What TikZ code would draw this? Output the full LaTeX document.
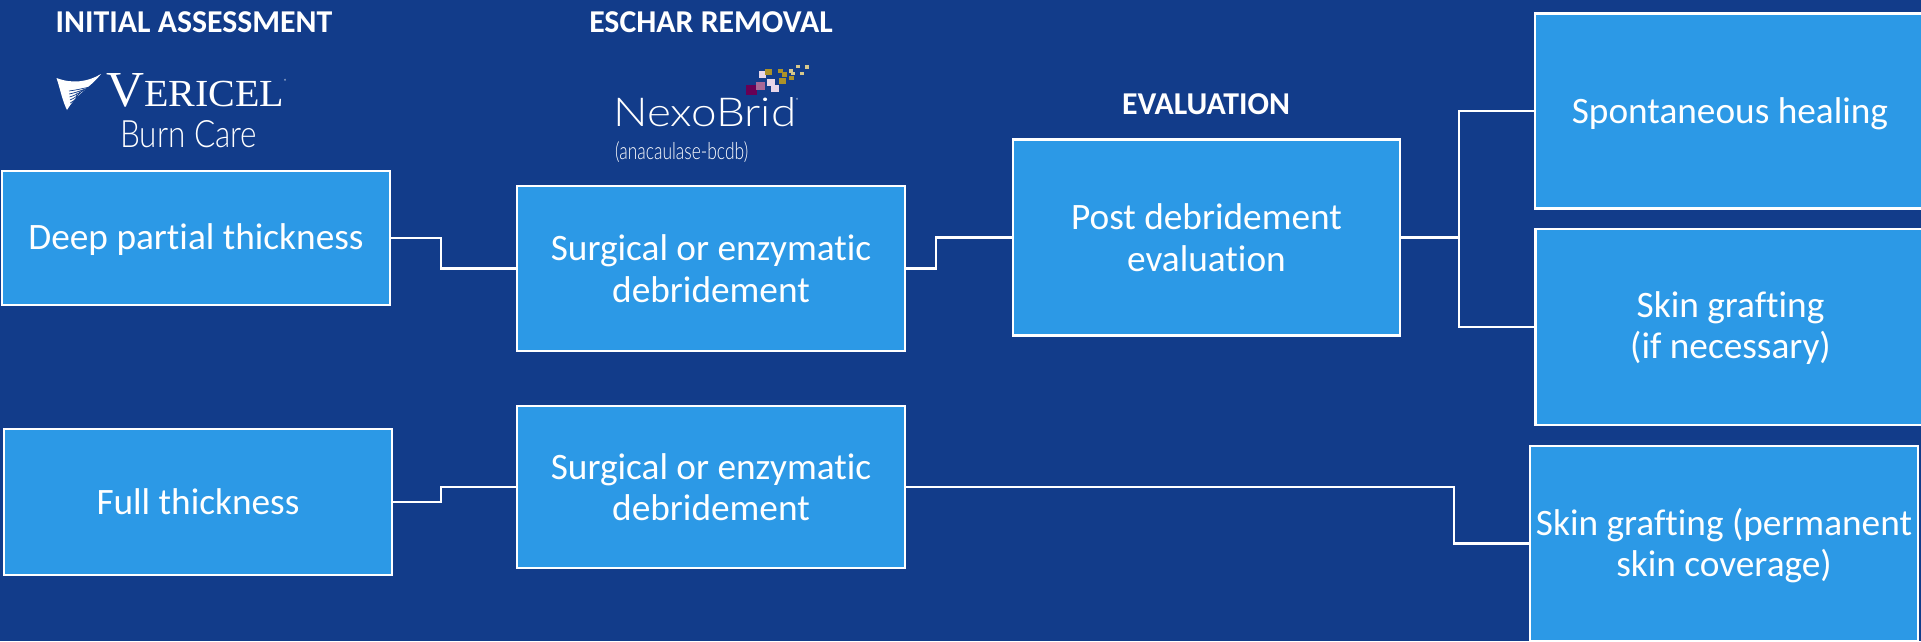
\documentclass[tikz,border=0pt]{standalone}
\usepackage{fontspec}
\setmainfont[Ligatures=NoCommon]{Carlito}
\newfontfamily\serifface{Liberation Serif}
\newfontfamily\lightface[UprightFont=* Light]{Lato}
\definecolor{bgblue}{RGB}{18,60,138}
\definecolor{boxblue}{RGB}{44,153,230}
\definecolor{plum}{RGB}{104,0,84}
\definecolor{mauve}{RGB}{168,104,150}
\definecolor{pale}{RGB}{232,214,232}
\definecolor{gold}{RGB}{172,146,40}
\definecolor{sand}{RGB}{214,200,140}
\tikzset{
  x=1pt,y=-1pt,
  flowbox/.style={draw=white,line width=2.8pt,fill=boxblue,text=white,align=center,inner sep=0pt,
    font=\fontsize{37.3}{41.5}\selectfont},
  heading/.style={text=white,inner sep=0pt,font=\fontsize{31.8}{36}\selectfont\bfseries},
  wire/.style={draw=white,line width=2.8pt,line join=miter},
  logotext/.style={text=white,inner sep=0pt,anchor=west}
}
\newcommand{\pixel}[5]{\fill[#1] ({580+#2/3},{#3/3}) rectangle ({580+#4/3},{#5/3});}
\newcommand{\lowered}[1]{\rule{0pt}{#1pt}}
\begin{document}
\begin{tikzpicture}
\useasboundingbox (0,0) rectangle (1921,641);
\clip (0,0) rectangle (1921,641);
\fill[bgblue] (0,0) rectangle (1921,641);

% boxes
\node[flowbox,minimum width=388pt,minimum height=134pt] (deep) at (196,238) {\lowered{29}Deep partial thickness};
\node[flowbox,minimum width=388pt,minimum height=146pt] (full) at (198,502) {Full thickness};
\node[flowbox,minimum width=388pt,minimum height=165pt] (surgA) at (711,268.5) {Surgical or enzymatic\\debridement};
\node[flowbox,minimum width=388pt,minimum height=162pt] (surgB) at (711,487) {Surgical or enzymatic\\debridement};
\node[flowbox,minimum width=387pt,minimum height=196pt] (post) at (1206.5,237.5) {Post debridement\\evaluation};
\node[flowbox,minimum width=390pt,minimum height=195.5pt] (heal) at (1730,111) {\lowered{31}Spontaneous healing};
\node[flowbox,minimum width=390pt,minimum height=196pt] (graftA) at (1730.5,327) {\lowered{28}Skin grafting\\(if necessary)};
\node[flowbox,minimum width=388pt,minimum height=195pt] (graftB) at (1724,543.5) {\lowered{31}Skin grafting (permanent\\skin coverage)};

% connectors
\coordinate (m1) at (441,0);
\coordinate (m2) at (936,0);
\coordinate (m3) at (1459,0);
\coordinate (m4) at (1454,0);
\draw[wire] (deep.east) -- (m1 |- deep.east) -- (m1 |- surgA.west) -- (surgA.west);
\draw[wire] (full.east) -- (m1 |- full.east) -- (m1 |- surgB.west) -- (surgB.west);
\draw[wire] (surgA.east) -- (m2 |- surgA.east) -- (m2 |- post.west) -- (post.west);
\draw[wire] (post.east) -- (m3 |- post.east);
\draw[wire] (heal.west) -- (m3 |- heal.west) -- (m3 |- graftA.west) -- (graftA.west);
\draw[wire] (surgB.east) -- (m4 |- surgB.east) -- (m4 |- graftB.west) -- (graftB.west);

% headings
\node[heading] (h1) at (194,22) {INITIAL ASSESSMENT};
\node[heading] (h2) at (711,22) {ESCHAR REMOVAL};
\node[heading] (h3) at (1206,104) {EVALUATION};

% Vericel logo
\fill[white] (56.5,78) .. controls (72,84) and (88,82) .. (101,74) .. controls (90,88) and (78,92) .. (67,110) .. controls (62,100) and (60,88) .. (56.5,78) -- cycle;
\foreach \k in {0,...,5}{
  \draw[bgblue,line width=0.7pt] ({69+\k*0.3},{91+\k*3}) .. controls ({76},{90+\k*2.4}) .. ({92-\k*3},{86.5+\k*1.2});
}
\node[logotext] (vericel) at (106,90.5) {\resizebox{178pt}{33pt}{\serifface\fontsize{50}{50}\selectfont V\fontsize{38}{38}\selectfont ERICEL}};
\node[logotext] (vericelr) at (284,81) {\fontsize{6}{6}\selectfont ®};
\node[logotext] (burn) at (120,134.5) {\resizebox{137pt}{27pt}{\lightface\fontsize{34}{34}\selectfont Burn Care}};

% NexoBrid logo
\pixel{plum}{498}{255}{531}{284}
\pixel{mauve}{527}{246}{555}{270}
\pixel{pale}{536}{213}{558}{234}
\pixel{gold}{555}{207}{575}{224}
\pixel{pale}{562}{238}{586}{258}
\pixel{pale}{574}{254}{598}{276}
\pixel{gold}{594}{208}{610}{220}
\pixel{gold}{605}{217}{622}{231}
\pixel{gold}{597}{235}{617}{252}
\pixel{sand}{628}{208}{640}{218}
\pixel{sand}{633}{216}{645}{224}
\pixel{gold}{626}{229}{641}{241}
\pixel{sand}{648}{195}{659}{204}
\pixel{sand}{661}{216}{672}{225}
\pixel{sand}{675}{196}{687}{206}
\node[logotext] (nexo) at (613,112.5) {\resizebox{183pt}{29pt}{\fontsize{40}{40}\lightface\selectfont NexoBrid}};
\node[logotext] (nexor) at (796,100) {\fontsize{6}{6}\selectfont ®};
\node[logotext] (inn) at (615,152) {\resizebox*{133pt}{21pt}{\lightface\fontsize{20}{20}\selectfont (anacaulase-bcdb)}};
\end{tikzpicture}
\end{document}
